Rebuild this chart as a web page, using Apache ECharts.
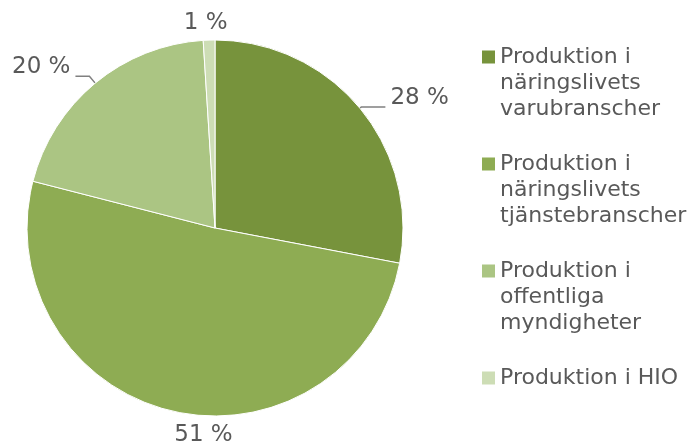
<!DOCTYPE html>
<html>
<head>
<meta charset="utf-8">
<script src="https://cdn.jsdelivr.net/npm/echarts@6/dist/echarts.min.js"></script>
<style>
  html, body { margin: 0; padding: 0; background: #ffffff; }
  #chart { width: 694px; height: 445px; }
</style>
</head>
<body>
<div id="chart"></div>
<script>
// Legend entries, one array of text lines per category
const categories = [
  ['Produktion i', 'näringslivets', 'varubranscher'],
  ['Produktion i', 'näringslivets', 'tjänstebranscher'],
  ['Produktion i', 'offentliga', 'myndigheter'],
  ['Produktion i HIO']
];
// Share of total production, percent
const shares = [28, 51, 20, 1];

const sliceColors = ['#77933c', '#8eac53', '#abc583', '#cdddb5'];
const textColor = '#595959';
const fontFamily = '"DejaVu Sans", Verdana, sans-serif';
const legendLines = 3;
const lineH = 26;

const names = categories.map(lines => lines.join('\n'));

// Labels that sit beside the arc without a visible leader line are centred
// at an offset from the point where their (hidden) guide meets the arc.
const freeLabelOffset = {
  1: [29.5, 33],
  3: [-3.5, -8]
};

const chart = echarts.init(document.getElementById('chart'), null, { renderer: 'canvas' });

chart.setOption({
  animation: false,
  color: sliceColors,
  legend: {
    orient: 'vertical',
    left: 482,
    top: 44,
    padding: 0,
    itemWidth: 13,
    itemHeight: lineH * legendLines,
    itemGap: 29,
    // square aligned with the first text line of a three-line entry
    icon: 'path://M0,6.5h13v13h-13z M0,0 M13,78',
    itemStyle: { borderWidth: 0 },
    formatter: function (name) {
      const n = name.split('\n').length;
      return name + '\n'.repeat(Math.max(0, legendLines - n));
    },
    textStyle: {
      color: textColor,
      fontFamily: fontFamily,
      fontSize: 22,
      lineHeight: lineH
    },
    data: names
  },
  series: [{
    type: 'pie',
    center: [215, 228],
    radius: 188,
    startAngle: 90,
    clockwise: true,
    avoidLabelOverlap: false,
    itemStyle: { borderColor: '#ffffff', borderWidth: 1 },
    label: {
      show: true,
      position: 'outside',
      // empty second line lifts the value so the leader ends at its baseline
      formatter: '{c} %\n',
      color: textColor,
      fontFamily: fontFamily,
      fontSize: 23,
      lineHeight: 18,
      distanceToLabelLine: 5
    },
    labelLine: {
      show: true,
      lineStyle: { color: '#808080', width: 1.5 }
    },
    labelLayout: function (params) {
      const off = freeLabelOffset[params.dataIndex];
      if (!off || !params.labelLinePoints) return {};
      const p = params.labelLinePoints[0];
      return { x: p[0] + off[0], y: p[1] + off[1], align: 'center' };
    },
    emphasis: { disabled: true },
    data: shares.map((v, i) => {
      const item = { name: names[i], value: v };
      if (i === 0) item.labelLine = { length: 2, length2: 24 };
      if (i === 2) item.labelLine = { length: 9, length2: 14 };
      if (i === 1 || i === 3) item.labelLine = { length: 4, length2: 0, lineStyle: { opacity: 0 } };
      return item;
    })
  }]
});
</script>
</body>
</html>
